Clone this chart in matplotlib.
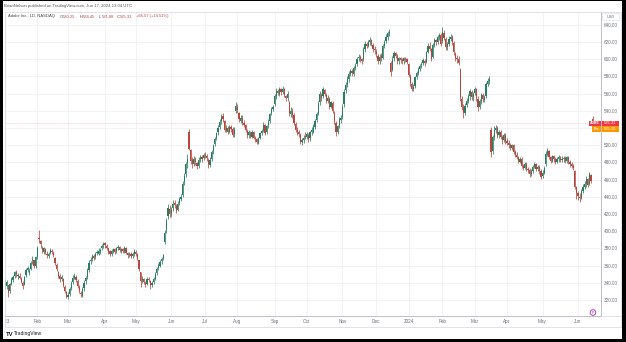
# -*- coding: utf-8 -*-
"""ADBE diario en velas, como la captura de TradingView"""
import numpy as np
import pandas as pd
import matplotlib
matplotlib.use("Agg")
import matplotlib.pyplot as plt
from matplotlib.patches import Rectangle, Circle
from matplotlib.ticker import FuncFormatter
from matplotlib.transforms import blended_transform_factory

plt.rcParams['font.family'] = ['Liberation Sans', 'DejaVu Sans']

# feriados del NASDAQ en el periodo
feriados = ["2023-01-16", "2023-02-20", "2023-04-07", "2023-05-29", "2023-06-19",
            "2023-07-04", "2023-09-04", "2023-11-23", "2023-12-25",
            "2024-01-01", "2024-01-15", "2024-02-19", "2024-03-29", "2024-05-27"]
fechas = pd.bdate_range("2023-01-03", "2024-06-14", freq="C", holidays=feriados)

# etiquetas del eje de tiempo (una por mes)
etiquetas_mes = ["2023", "Feb", "Mar", "Apr", "May", "Jun", "Jul", "Aug", "Sep",
                 "Oct", "Nov", "Dec", "2024", "Feb", "Mar", "Apr", "May", "Jun"]

# precios, un renglon por mes
opens = [
    340, 336, 337, 331, 339, 343, 348, 352, 348, 348, 345, 340, 338, 349, 355, 351, 356, 366, 366, 359,
    371, 392, 389, 381, 376, 379, 374, 371, 375, 377, 375, 369, 361, 352, 348, 344, 345, 335, 329,
    324, 327, 334, 341, 346, 347, 342, 335, 328, 325, 334, 342, 347, 355, 365, 368, 371, 370, 375, 374, 376, 380, 384,
    386, 383, 380, 377, 373, 377, 379, 377, 380, 382, 377, 379, 377, 380, 375, 372, 374, 371, 373,
    376, 373, 366, 352, 343, 344, 340, 339, 345, 342, 337, 341, 345, 351, 357, 360, 365, 369, 388, 401, 418, 426,
    421, 427, 433, 429, 425, 433, 438, 442, 457, 467, 479, 516, 494, 483, 478, 484, 479, 476, 484, 486, 485,
    489, 487, 483, 477, 484, 493, 501, 508, 515, 521, 528, 534, 528, 517, 520, 516, 521, 519, 513, 540,
    545, 537, 528, 532, 526, 523, 517, 512, 514, 510, 515, 509, 507, 503, 509, 514, 518, 523, 515, 523, 528, 537, 542,
    548, 557, 563, 560, 565, 562, 565, 557, 555, 550, 536, 540, 535, 525, 518, 515, 512, 504, 506, 511,
    510, 512, 508, 515, 516, 521, 529, 537, 550, 559, 557, 564, 559, 552, 554, 545, 549, 538, 526, 516, 523, 529,
    533, 548, 564, 571, 577, 583, 586, 583, 590, 595, 601, 603, 600, 600, 612, 618, 616, 620, 622, 617, 612,
    609, 604, 598, 604, 602, 615, 621, 626, 630, 596, 588, 601, 607, 604, 598, 601, 599, 598, 601, 600,
    595, 580, 571, 566, 569, 579, 584, 589, 593, 596, 598, 597, 609, 616, 612, 603, 617, 622, 620, 626, 628,
    621, 631, 624, 614, 618, 624, 626, 619, 606, 602, 600, 588, 554, 544, 538, 547, 552, 557, 562, 556,
    561, 565, 554, 545, 551, 558, 553, 557, 571, 575, 518, 493, 510, 518, 520, 512, 516, 510, 506, 512,
    505, 503, 500, 497, 500, 492, 489, 486, 481, 484, 476, 474, 478, 472, 471, 466, 470, 475, 478, 472, 475, 470,
    464, 468, 478, 490, 493, 486, 482, 487, 484, 481, 484, 486, 483, 484, 485, 482, 486, 481, 478, 476, 470, 451,
    445, 440, 439, 447, 452, 455, 461, 455, 465, 530.25,
]
highs = [
    345, 343, 338, 340, 347, 349, 354, 355, 351, 351, 347, 342, 348, 357, 359, 357, 365, 371, 367, 371,
    383, 401, 390, 383, 382, 381, 377, 376, 380, 379, 377, 370, 363, 354, 350, 349, 346, 337, 331,
    329, 335, 342, 349, 351, 349, 344, 337, 331, 335, 343, 348, 357, 366, 370, 374, 373, 376, 378, 380, 380, 385, 387,
    388, 385, 381, 378, 379, 381, 381, 382, 384, 383, 381, 381, 383, 382, 376, 376, 376, 376, 379,
    378, 375, 367, 353, 348, 346, 342, 347, 347, 343, 342, 347, 352, 358, 363, 366, 370, 374, 401, 415, 432, 430,
    428, 436, 436, 432, 435, 440, 443, 458, 468, 481, 490, 519, 496, 486, 487, 486, 481, 486, 489, 489, 491,
    492, 490, 485, 486, 494, 501, 510, 516, 523, 530, 536, 538, 529, 523, 522, 524, 523, 521, 521, 550,
    548, 539, 535, 535, 529, 525, 519, 518, 517, 518, 517, 511, 509, 510, 516, 519, 527, 525, 524, 530, 538, 545, 547,
    560, 567, 566, 568, 567, 569, 567, 559, 563, 552, 544, 543, 537, 527, 521, 518, 514, 509, 512, 515,
    516, 514, 517, 521, 525, 531, 539, 551, 563, 561, 568, 566, 561, 558, 556, 552, 551, 540, 528, 524, 533, 535,
    548, 566, 574, 580, 586, 589, 589, 592, 596, 603, 606, 605, 602, 614, 621, 620, 622, 626, 624, 619, 615,
    612, 606, 606, 607, 618, 623, 629, 633, 635, 598, 604, 610, 609, 606, 603, 603, 601, 603, 603, 602,
    596, 583, 574, 571, 581, 586, 591, 595, 597, 602, 600, 610, 619, 620, 613, 619, 625, 624, 628, 631, 630,
    638, 634, 626, 620, 627, 629, 628, 621, 609, 605, 604, 590, 557, 548, 549, 555, 560, 566, 564, 562,
    568, 567, 557, 554, 561, 561, 558, 573, 578, 580, 521, 512, 522, 524, 522, 518, 518, 512, 514, 514,
    508, 506, 503, 502, 502, 494, 492, 488, 486, 486, 478, 480, 480, 475, 473, 472, 477, 480, 479, 477, 477, 472,
    471, 476, 493, 497, 495, 488, 489, 489, 486, 486, 489, 488, 487, 487, 487, 488, 487, 483, 480, 478, 471, 453,
    447, 444, 449, 455, 458, 464, 462, 469, 467, 534.45,
]
lows = [
    333, 333, 323, 328, 337, 341, 346, 347, 344, 344, 340, 333, 337, 347, 352, 349, 355, 362, 357, 357,
    368, 386, 380, 375, 374, 374, 369, 369, 373, 373, 370, 361, 354, 346, 341, 342, 335, 328, 322,
    321, 325, 332, 339, 344, 341, 334, 328, 323, 323, 331, 339, 345, 352, 362, 365, 366, 368, 372, 372, 373, 378, 381,
    381, 378, 374, 371, 371, 375, 374, 375, 378, 376, 375, 375, 375, 373, 369, 370, 369, 369, 371,
    371, 366, 354, 335, 340, 339, 335, 337, 341, 333, 335, 339, 343, 349, 355, 358, 362, 366, 385, 398, 414, 416,
    417, 424, 427, 421, 423, 430, 435, 440, 454, 463, 474, 494, 478, 474, 476, 477, 472, 474, 481, 480, 483,
    485, 482, 474, 475, 482, 490, 499, 506, 512, 519, 525, 527, 515, 515, 513, 514, 516, 510, 510, 538,
    538, 527, 526, 523, 521, 515, 509, 509, 508, 508, 507, 504, 502, 501, 507, 512, 516, 512, 513, 520, 526, 535, 540,
    546, 554, 558, 557, 559, 560, 556, 552, 552, 534, 533, 532, 523, 515, 512, 510, 501, 500, 503, 507,
    507, 504, 505, 512, 514, 519, 527, 535, 547, 552, 555, 557, 549, 549, 542, 543, 537, 525, 511, 513, 520, 526,
    530, 545, 561, 568, 574, 580, 581, 580, 587, 592, 598, 597, 595, 598, 609, 613, 614, 617, 616, 609, 606,
    603, 595, 595, 598, 600, 613, 619, 623, 627, 580, 586, 598, 601, 595, 595, 596, 595, 595, 597, 594,
    579, 569, 563, 563, 567, 577, 582, 586, 590, 593, 592, 596, 607, 610, 598, 601, 614, 617, 618, 623, 616,
    619, 622, 611, 611, 616, 621, 617, 605, 598, 596, 593, 552, 541, 532, 535, 544, 549, 553, 553, 552,
    558, 552, 540, 542, 548, 550, 550, 555, 569, 571, 486, 490, 506, 514, 509, 508, 507, 502, 504, 502,
    500, 497, 494, 494, 490, 486, 484, 479, 479, 474, 471, 472, 470, 468, 463, 464, 468, 473, 470, 470, 467, 461,
    462, 466, 476, 487, 484, 479, 480, 481, 478, 479, 481, 480, 480, 481, 479, 479, 478, 475, 473, 471, 449, 437,
    436, 434, 437, 444, 449, 452, 451, 454, 456, 521.88,
]
closes = [
    337, 341, 328, 339, 343, 347, 353, 350, 349, 346, 341, 336, 347, 355, 357, 354, 363, 368, 360, 370,
    381, 391, 385, 378, 380, 376, 372, 374, 378, 376, 372, 363, 356, 348, 345, 347, 337, 330, 324,
    326, 333, 340, 346, 348, 343, 336, 330, 327, 333, 340, 346, 355, 363, 367, 371, 369, 374, 376, 377, 378, 383, 385,
    384, 380, 376, 374, 377, 379, 376, 380, 382, 378, 379, 377, 381, 375, 372, 374, 371, 374, 377,
    374, 368, 356, 342, 345, 341, 338, 345, 343, 337, 340, 345, 350, 356, 360, 364, 368, 372, 398, 412, 427, 420,
    425, 432, 430, 424, 432, 437, 440, 455, 464, 478, 484, 496, 482, 478, 484, 480, 476, 483, 486, 484, 489,
    488, 485, 478, 483, 492, 499, 507, 514, 520, 527, 533, 530, 518, 520, 516, 521, 519, 512, 518, 546,
    541, 530, 532, 526, 524, 518, 512, 515, 511, 516, 509, 507, 504, 508, 514, 517, 524, 514, 522, 527, 536, 542, 544,
    557, 563, 561, 565, 562, 566, 558, 555, 560, 537, 540, 535, 526, 518, 515, 513, 504, 506, 509, 510,
    513, 507, 515, 518, 522, 528, 536, 548, 560, 555, 565, 560, 552, 555, 545, 550, 540, 528, 515, 522, 530, 532,
    545, 562, 570, 577, 583, 586, 584, 590, 593, 600, 603, 600, 598, 612, 618, 616, 620, 623, 618, 612, 611,
    606, 598, 603, 601, 616, 620, 626, 630, 632, 585, 600, 607, 604, 598, 601, 599, 598, 601, 600, 597,
    582, 572, 566, 568, 579, 584, 589, 592, 594, 599, 596, 608, 616, 612, 600, 617, 622, 620, 626, 628, 618,
    632, 625, 614, 618, 624, 626, 620, 608, 602, 600, 596, 556, 545, 538, 546, 552, 557, 563, 556, 560,
    566, 555, 544, 551, 558, 554, 556, 571, 575, 577, 492, 510, 518, 520, 512, 516, 510, 506, 512, 505,
    503, 500, 497, 500, 492, 489, 486, 482, 484, 476, 474, 478, 472, 471, 466, 470, 475, 478, 472, 475, 470, 463,
    468, 474, 490, 494, 486, 482, 487, 484, 481, 484, 486, 483, 484, 485, 482, 486, 481, 478, 476, 474, 452, 445,
    441, 439, 447, 452, 455, 461, 454, 466, 458.74, 525.31,
]
precio_prev = 525.30
niveles = list(range(320, 660, 20))
nivel_tapado = 520  # queda debajo de las etiquetas de precio

assert len(opens) == len(highs) == len(lows) == len(closes) == len(fechas)

W, H = 626, 342
VERDE = "#2b7d60"
ROJO = "#b8463f"
GRIS = "#6a6d78"
GRID = "#eef0f4"


def caja(x, y, w, h):
    # rectangulo en pixeles (origen arriba a la izquierda) -> fraccion de figura
    return [x / W, 1 - (y + h) / H, w / W, h / H]


o = np.array(opens, dtype=float)
h = np.array(highs, dtype=float)
l = np.array(lows, dtype=float)
c = np.array(closes, dtype=float)
idx = np.arange(len(c))
sube = c >= o
colores = np.where(sube, VERDE, ROJO)

# primer dia de cada mes
ym = fechas.year * 100 + fechas.month
inicio_mes = np.flatnonzero(np.r_[True, np.diff(ym) != 0])

fig = plt.figure(figsize=(W / 100, H / 100), dpi=100)
fig.patch.set_facecolor("white")

# grafico principal
ax = fig.add_axes(caja(5, 12, 596, 304))
ax.set_xlim(0.2, 369.2)
ax.set_ylim(301.4, 655)
ax.set_xticks(inicio_mes)
ax.set_yticks(niveles)
ax.grid(True, color=GRID, lw=0.6)
ax.set_axisbelow(True)
ax.tick_params(axis="x", length=0, labelbottom=False)
ax.yaxis.tick_right()
ax.yaxis.set_major_formatter(FuncFormatter(lambda v, p: "" if v == nivel_tapado else f"{v:.2f}"))
ax.tick_params(axis="y", length=0, pad=2.3, labelsize=3.3, labelcolor=GRIS)
for s in ["top", "left"]:
    ax.spines[s].set_visible(False)
for s in ["right", "bottom"]:
    ax.spines[s].set_color("#b2b5be")
    ax.spines[s].set_linewidth(0.6)

ax.vlines(idx, l, h, colors=colores, lw=0.55)
cuerpo = np.maximum(np.abs(c - o), 0.9)
ax.bar(idx, cuerpo, bottom=np.minimum(o, c), width=0.75, color=colores, linewidth=0)
ax.axhline(c[-1], color=ROJO, lw=0.4, ls=(0, (1, 2)), alpha=0.6)

# eje de tiempo
tx = fig.add_axes(caja(5, 316, 596, 11))
tx.set_xlim(ax.get_xlim())
tx.set_ylim(0, 1)
tx.axis("off")
for i, et in zip(inicio_mes, etiquetas_mes):
    tx.text(i, 0.5, et, ha="center", va="center", fontsize=3.3, color=GRIS, clip_on=True)

# capa de textos y marcos en pixeles
ov = fig.add_axes([0, 0, 1, 1], zorder=5)
ov.set_xlim(0, W)
ov.set_ylim(H, 0)
ov.axis("off")

ov.add_patch(Rectangle((5, 12), 616, 315, fill=False, ec="#d6d8de", lw=0.5))
ov.plot([601, 621], [316, 316], color="#d6d8de", lw=0.5)

ov.text(3.5, 6, "BrianNelson published on TradingView.com, Jun 17, 2024 13:04 UTC",
        fontsize=3.1, color="#555555", va="center")
ov.text(7.5, 16.5, "Adobe Inc., 1D, NASDAQ", fontsize=2.95, color="#444444", va="center")
leyenda = [(60, "O", "530.25"), (80, "H", "534.45"), (99, "L", "521.88"), (117, "C", "525.31")]
for x, letra, valor in leyenda:
    ov.text(x, 16.5, letra, fontsize=3.0, color="#444444", va="center")
    ov.text(x + 2.6, 16.5, valor, fontsize=3.0, color=ROJO, va="center")
ov.text(136, 16.5, "+66.57 (+14.51%)", fontsize=3.0, color=ROJO, va="center")

# caja USD
ov.add_patch(Rectangle((602, 13), 17, 7, fc="white", ec="#d6d8de", lw=0.4))
ov.text(610.5, 16.5, "USD", fontsize=2.8, color=GRIS, ha="center", va="center")

# etiquetas de precio actual y premarket
mix = blended_transform_factory(ov.transData, ax.transData)
alto = 6.3
filas = [(c[-1], "ADBE", 589, "#f23645", f"{c[-1]:.2f}"),
         (c[-1] - alto, "Pre", 592, "#ff9800", f"{precio_prev:.2f}")]
for y, nombre, x0, col, txt in filas:
    ov.add_patch(Rectangle((x0, y - alto / 2), 600.5 - x0, alto, transform=mix,
                           fc=col, ec="none", clip_on=False))
    ov.add_patch(Rectangle((601.5, y - alto / 2), 17, alto, transform=mix,
                           fc=col, ec="none", clip_on=False))
    ov.text((x0 + 600.5) / 2, y, nombre, transform=mix, fontsize=2.5, color="white",
            ha="center", va="center", fontweight="bold")
    ov.text(610, y, txt, transform=mix, fontsize=3.0, color="white", ha="center", va="center")

# icono morado
ov.add_patch(Circle((593, 312.5), 2.8, fill=False, ec="#9c27b0", lw=0.6))
ov.text(593, 312.6, "P", fontsize=2.4, color="#9c27b0", ha="center", va="center")

# logo TradingView
ov.text(5.5, 334, "TV", fontsize=4.2, color="#131722", fontweight="bold", va="center")
ov.text(14, 334, "TradingView", fontsize=3.6, color="#131722", va="center")

# marco negro de la captura
for r in [(0, 0, 3, H), (622, 0, 4, H), (0, 339, W, 3), (0, 0, W, 1)]:
    ov.add_patch(Rectangle(r[:2], r[2], r[3], fc="black", ec="none"))

fig.savefig("out.png", dpi=100)
